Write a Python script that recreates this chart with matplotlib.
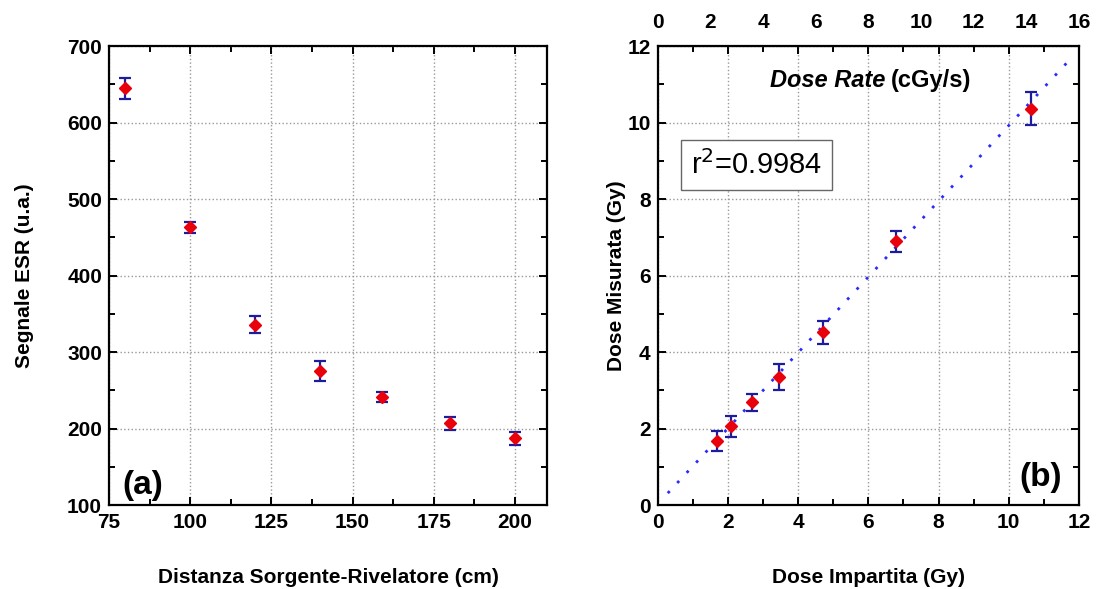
import numpy as np
import matplotlib.pyplot as plt
from matplotlib.ticker import MultipleLocator

plt.rcParams['font.family'] = ['Liberation Sans', 'DejaVu Sans']

# --- dati pannello (a) ---
distanza = [80, 100, 120, 140, 159, 180, 200]
segnale = [645, 463, 336, 275, 241, 207, 187]
err_segnale = [14, 7, 11, 13, 6.5, 8.5, 8.5]

# --- dati pannello (b) ---
dose_imp = [1.70, 2.09, 2.68, 3.45, 4.72, 6.80, 10.62]
dose_mis = [1.67, 2.06, 2.69, 3.36, 4.52, 6.90, 10.37]
err_dose = [0.27, 0.27, 0.22, 0.34, 0.30, 0.27, 0.43]
# retta di fit (estremi)
fit_x = [0.29, 11.79]
fit_y = [0.31, 11.70]

red = '#e8000b'
blue = '#1c1c9c'
fs = 15

fig = plt.figure(figsize=(10.96, 5.89), dpi=100)
ax1 = fig.add_axes([0.0995, 0.1426, 0.400, 0.779])
ax2 = fig.add_axes([0.600, 0.1426, 0.3845, 0.779])

def style(ax):
    for s in ax.spines.values():
        s.set_linewidth(1.6)
    ax.tick_params(which='both', direction='in', top=True, right=True,
                   labelsize=fs, width=1.4)
    ax.tick_params(which='major', length=6)
    ax.tick_params(which='minor', length=4)
    ax.tick_params(axis='x', pad=6)
    ax.tick_params(axis='y', pad=5)
    for lab in ax.get_xticklabels() + ax.get_yticklabels():
        lab.set_fontweight('bold')
    ax.grid(True, which='major', linestyle=':', color='#999999', linewidth=1)
    ax.set_axisbelow(True)

# pannello (a)
ax1.errorbar(distanza, segnale, yerr=err_segnale, fmt='D', color=red,
             markersize=6.5, ecolor=blue, elinewidth=1.6, capsize=4.5,
             capthick=1.6, zorder=3)
ax1.set_xlim(75, 210)
ax1.set_ylim(100, 700)
ax1.xaxis.set_major_locator(MultipleLocator(25))
ax1.xaxis.set_minor_locator(MultipleLocator(12.5))
ax1.yaxis.set_major_locator(MultipleLocator(100))
ax1.yaxis.set_minor_locator(MultipleLocator(50))
style(ax1)
ax1.set_xlabel('Distanza Sorgente-Rivelatore (cm)', fontsize=fs,
               fontweight='bold', labelpad=26)
ax1.set_ylabel('Segnale ESR (u.a.)', fontsize=fs, fontweight='bold',
               labelpad=24)
ax1.text(79, 115, '(a)', fontsize=24, fontweight='bold')

# pannello (b)
ax2.plot(fit_x, fit_y, linestyle=(0, (1, 4)), color='#2a2aff',
         linewidth=2, zorder=2)
ax2.errorbar(dose_imp, dose_mis, yerr=err_dose, fmt='D', color=red,
             markersize=6.5, ecolor=blue, elinewidth=1.6, capsize=4.5,
             capthick=1.6, zorder=3)
ax2.set_xlim(0, 12)
ax2.set_ylim(0, 12)
ax2.xaxis.set_major_locator(MultipleLocator(2))
ax2.xaxis.set_minor_locator(MultipleLocator(1))
ax2.yaxis.set_major_locator(MultipleLocator(2))
ax2.yaxis.set_minor_locator(MultipleLocator(1))
style(ax2)
ax2.set_xlabel('Dose Impartita (Gy)', fontsize=fs, fontweight='bold',
               labelpad=26)
ax2.set_ylabel('Dose Misurata (Gy)', fontsize=fs, fontweight='bold',
               labelpad=1)

sec = ax2.secondary_xaxis('top', functions=(lambda x: x * 16 / 12,
                                            lambda x: x * 12 / 16))
sec.set_xticks(np.arange(0, 17, 2))
sec.tick_params(length=0, labelsize=fs, pad=10)
for lab in sec.get_xticklabels():
    lab.set_fontweight('bold')

ax2.text(6.5, 11.1, 'Dose Rate', fontsize=17, fontweight='bold',
         style='italic', ha='right', va='center')
ax2.text(6.65, 11.1, '(cGy/s)', fontsize=17, fontweight='bold',
         ha='left', va='center')
ax2.text(0.95, 8.9, r'r$^{2}$=0.9984', fontsize=21, va='center',
         bbox=dict(boxstyle='square,pad=0.35', facecolor='white',
                   edgecolor='#666666', linewidth=1))
ax2.text(10.3, 0.5, '(b)', fontsize=24, fontweight='bold')

fig.savefig('out.png', dpi=100)
